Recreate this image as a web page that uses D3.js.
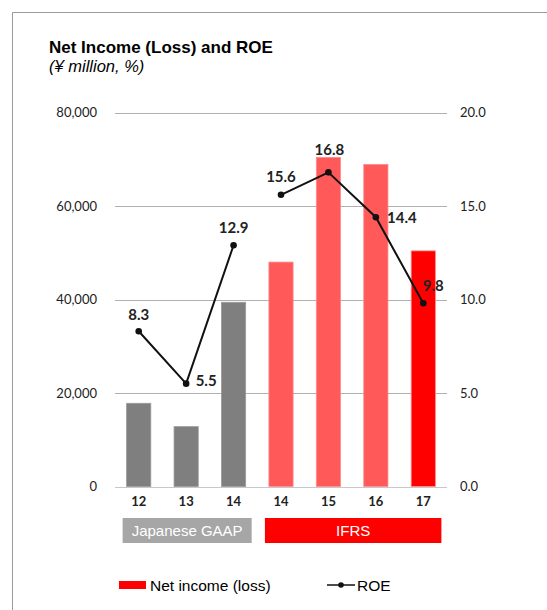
<!DOCTYPE html>
<html>
<head>
<meta charset="utf-8">
<script src="https://cdn.jsdelivr.net/npm/d3@7/dist/d3.min.js"></script>
<style>
  body { margin: 0; background: #fff; }
  svg { display: block; }
</style>
</head>
<body>
<div id="chart"></div>
<script>
var categories = ["12", "13", "14", "14 ", "15", "16", "17"],
    tickLabels = ["12", "13", "14", "14", "15", "16", "17"],
    standards = ["Japanese GAAP", "Japanese GAAP", "Japanese GAAP", "IFRS", "IFRS", "IFRS", "IFRS"],
    netIncome = [17800, 12800, 39400, 48000, 70400, 68900, 50400],
    roe = [8.3, 5.5, 12.9, 15.6, 16.8, 14.4, 9.8],
    barColors = ["#7f7f7f", "#7f7f7f", "#7f7f7f", "#ff5959", "#ff5959", "#ff5959", "#ff0000"],
    leftTicks = [0, 20000, 40000, 60000, 80000],
    rightTicks = [0, 5, 10, 15, 20];

var width = 547,
    height = 610;

var svg = d3.select('#chart').append('svg')
    .attr('width', width)
    .attr('height', height);

// frame (top and left edges only)
svg.append('path')
    .attr('d', 'M12.5,' + height + 'V12.5H' + width)
    .attr('fill', 'none')
    .attr('stroke', '#9a9a9a')
    .attr('stroke-width', 1);

svg.append('text')
    .attr('x', 49).attr('y', 53)
    .style('font-family', '"Liberation Sans", Arial, sans-serif')
    .style('font-weight', 'bold')
    .style('font-size', '17px')
    .attr('fill', '#000')
    .text('Net Income (Loss) and ROE');

svg.append('text')
    .attr('x', 49).attr('y', 72)
    .style('font-family', '"Liberation Sans", Arial, sans-serif')
    .style('font-style', 'italic')
    .style('font-size', '16.5px')
    .attr('fill', '#000')
    .text('(¥ million, %)');

var x = d3.scaleBand().domain(categories).range([115, 447]).paddingInner(0.49).paddingOuter(0.245);
var y = d3.scaleLinear().domain([0, 80000]).range([486.5, 112.5]);
var y2 = d3.scaleLinear().domain([0, 20]).range([486.5, 112.5]);

// gridlines
svg.append('g')
    .selectAll('line')
    .data(leftTicks)
    .enter().append('line')
    .attr('x1', 115).attr('x2', 447)
    .attr('y1', function(d) { return Math.round(y(d)) + 0.5; })
    .attr('y2', function(d) { return Math.round(y(d)) + 0.5; })
    .attr('stroke', function(d) { return d === 0 ? '#c8c8c8' : '#b0b0b0'; })
    .attr('stroke-width', 1.2);

var tickFont = 'Lato, "Open Sans", sans-serif';

// left axis labels
var leftAxis = d3.axisLeft(y).tickValues(leftTicks).tickSize(0).tickPadding(0)
    .tickFormat(d3.format(','));
svg.append('g')
    .attr('transform', 'translate(97,0)')
    .call(leftAxis)
    .call(function(g) { g.select('.domain').remove(); })
    .selectAll('text')
    .style('font-family', tickFont)
    .style('font-size', '13px')
    .attr('fill', '#222');

// right axis labels
var rightAxis = d3.axisRight(y2).tickValues(rightTicks).tickSize(0).tickPadding(0)
    .tickFormat(d3.format('.1f'));
svg.append('g')
    .attr('transform', 'translate(460,0)')
    .call(rightAxis)
    .call(function(g) { g.select('.domain').remove(); })
    .selectAll('text')
    .style('font-family', tickFont)
    .style('font-size', '13px')
    .attr('fill', '#222');

// bars
svg.append('g')
    .selectAll('rect')
    .data(netIncome)
    .enter().append('rect')
    .attr('x', function(d, i) { return x(categories[i]); })
    .attr('width', x.bandwidth())
    .attr('y', function(d) { return y(d); })
    .attr('height', function(d) { return y(0) - y(d); })
    .attr('fill', function(d, i) { return barColors[i]; })
    .attr('stroke', function(d, i) { return i < 3 ? '#9a9a9a' : '#ff8a8a'; })
    .attr('stroke-width', 0.8);

// category labels
var xAxis = d3.axisBottom(x).tickSize(0).tickPadding(0)
    .tickFormat(function(d, i) { return tickLabels[i]; });
svg.append('g')
    .attr('transform', 'translate(0,497)')
    .call(xAxis)
    .call(function(g) { g.select('.domain').remove(); })
    .selectAll('text')
    .style('font-family', tickFont)
    .style('font-weight', 'bold')
    .style('font-size', '13px')
    .attr('fill', '#222');

// accounting standard bands
var bands = [
    { label: 'Japanese GAAP', from: 0, to: 2, fill: '#a6a6a6' },
    { label: 'IFRS', from: 3, to: 6, fill: '#ff0000' }
];
var bandG = svg.append('g').selectAll('g').data(bands).enter().append('g');
bandG.append('rect')
    .attr('x', function(d) { return x(categories[d.from]) - 4; })
    .attr('width', function(d) { return x(categories[d.to]) + x.bandwidth() + 6 - (x(categories[d.from]) - 4); })
    .attr('y', 518).attr('height', 25)
    .attr('fill', function(d) { return d.fill; });
bandG.append('text')
    .attr('x', function(d) { return (x(categories[d.from]) + x(categories[d.to]) + x.bandwidth()) / 2 + 1; })
    .attr('y', 536)
    .attr('text-anchor', 'middle')
    .style('font-family', '"Liberation Sans", Arial, sans-serif')
    .style('font-size', '15px')
    .attr('fill', '#fff')
    .text(function(d) { return d.label; });

// ROE line, broken between accounting standards
var cx = function(i) { return x(categories[i]) + x.bandwidth() / 2; };
var roePoints = roe.map(function(d, i) { return { i: i, v: d, std: standards[i] }; });
var groups = d3.groups(roePoints, function(d) { return d.std; });
var line = d3.line()
    .x(function(d) { return cx(d.i); })
    .y(function(d) { return y2(d.v); });
svg.append('g')
    .selectAll('path')
    .data(groups)
    .enter().append('path')
    .attr('d', function(g) { return line(g[1]); })
    .attr('fill', 'none')
    .attr('stroke', '#111')
    .attr('stroke-width', 2);
svg.append('g')
    .selectAll('circle')
    .data(roe)
    .enter().append('circle')
    .attr('cx', function(d, i) { return cx(i); })
    .attr('cy', function(d) { return y2(d); })
    .attr('r', 3.3)
    .attr('fill', '#111');

// data labels
var labelOffsets = [[0, -17], [20, -3], [0, -18], [0, -18], [1, -23], [26, 1], [10, -17]];
svg.append('g')
    .selectAll('text')
    .data(roe)
    .enter().append('text')
    .attr('x', function(d, i) { return cx(i) + labelOffsets[i][0]; })
    .attr('y', function(d, i) { return y2(d) + labelOffsets[i][1]; })
    .attr('dy', '0.35em')
    .attr('text-anchor', 'middle')
    .style('font-family', tickFont)
    .style('font-weight', 'bold')
    .style('font-size', '15px')
    .attr('fill', '#222')
    .text(function(d) { return d3.format('.1f')(d); });

// legend
var legend = svg.append('g');
legend.append('rect')
    .attr('x', 119).attr('y', 581).attr('width', 27).attr('height', 8)
    .attr('fill', '#ff0000');
legend.append('text')
    .attr('x', 150).attr('y', 591)
    .style('font-family', '"Liberation Sans", Arial, sans-serif')
    .style('font-size', '15.5px')
    .attr('fill', '#000')
    .text('Net income (loss)');
legend.append('line')
    .attr('x1', 327).attr('x2', 355).attr('y1', 585).attr('y2', 585)
    .attr('stroke', '#111').attr('stroke-width', 1.5);
legend.append('circle')
    .attr('cx', 341).attr('cy', 585).attr('r', 2.8)
    .attr('fill', '#111');
legend.append('text')
    .attr('x', 357).attr('y', 591)
    .style('font-family', '"Liberation Sans", Arial, sans-serif')
    .style('font-size', '15.5px')
    .attr('fill', '#000')
    .text('ROE');
</script>
</body>
</html>
